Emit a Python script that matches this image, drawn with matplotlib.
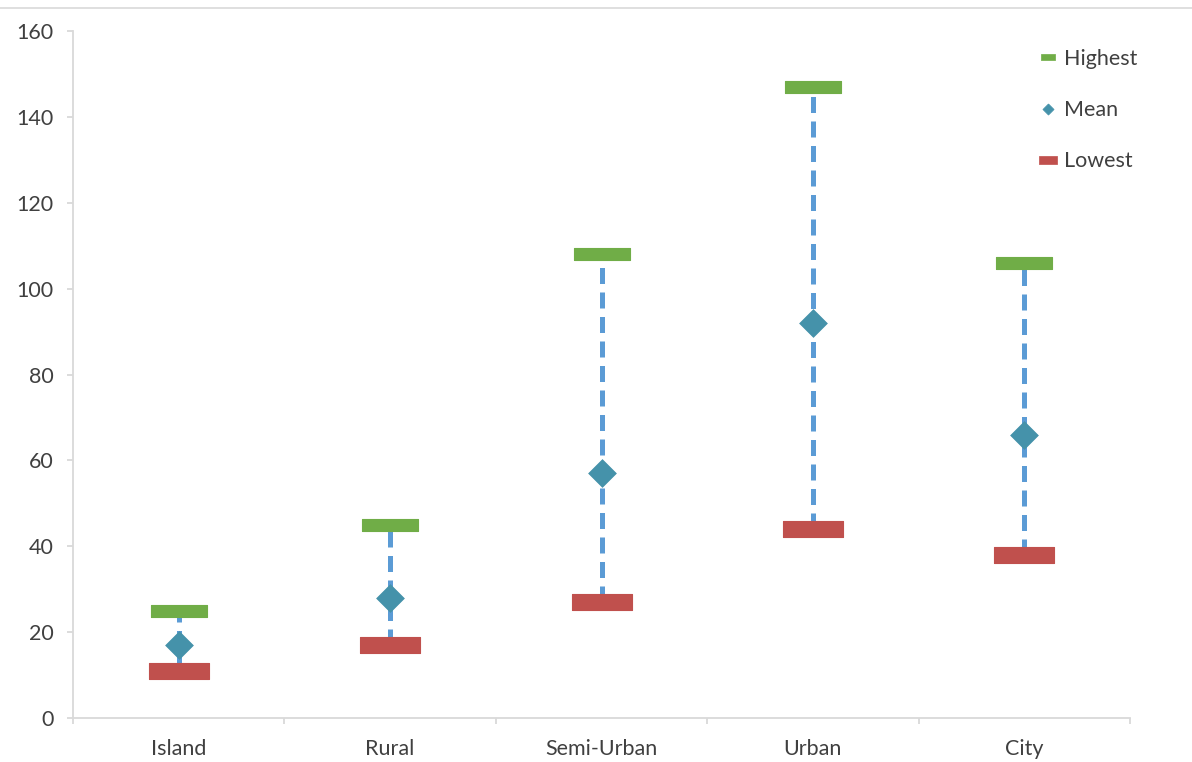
import matplotlib
matplotlib.use("Agg")
import matplotlib.pyplot as plt
from matplotlib.lines import Line2D
import numpy as np

categories = ["Island", "Rural", "Semi-Urban", "Urban", "City"]
highest = [25, 45, 108, 147, 106]
mean = [17, 28, 57, 92, 66]
lowest = [11, 17, 27, 44, 38]

plt.rcParams['font.family'] = ['Lato', 'DejaVu Sans']

GREEN = "#70AD47"
RED = "#C0504D"
TEAL = "#4592AA"
BLUE = "#5B9BD5"
GRAY = "#D9D9D9"
TXT = "#404040"
FS = 15.5

fig = plt.figure(figsize=(11.92, 7.62), dpi=100)
ax = fig.add_axes([73/1192, 44/762, (1130-73)/1192, (718-31)/762])

x = np.arange(len(categories))

# dashed range lines
ax.vlines(x, lowest, highest, colors=BLUE, linewidth=3.6,
          linestyles=(0, (3.2, 1.7)), zorder=1)

green_rect = [(-28, -6), (28, -6), (28, 6), (-28, 6), (-28, -6)]
red_rect = [(-29.5, -7.5), (29.5, -7.5), (29.5, 7.5), (-29.5, 7.5), (-29.5, -7.5)]
diamond = [(0, 1), (1, 0), (0, -1), (-1, 0), (0, 1)]

ax.plot(x, highest, linestyle='none', marker=green_rect, markersize=40.3,
        markerfacecolor=GREEN, markeredgecolor=GREEN, markeredgewidth=0.8, zorder=3)
ax.plot(x, lowest, linestyle='none', marker=red_rect, markersize=42.5,
        markerfacecolor=RED, markeredgecolor=RED, markeredgewidth=0.8, zorder=3)
ax.plot(x, mean, linestyle='none', marker=diamond, markersize=20,
        markerfacecolor=TEAL, markeredgecolor=TEAL, markeredgewidth=0.5, zorder=4)

ax.set_xlim(-0.5, len(categories) - 0.5)
ax.set_ylim(0, 160)
ax.set_yticks(np.arange(0, 161, 20))
ax.set_xticks(x)
ax.set_xticklabels(categories)
ax.set_xticks(np.arange(-0.5, len(categories), 1), minor=True)

for s in ['top', 'right']:
    ax.spines[s].set_visible(False)
for s in ['left', 'bottom']:
    ax.spines[s].set_color(GRAY)
    ax.spines[s].set_linewidth(1.3)

ax.tick_params(axis='y', direction='out', length=4, width=1.3, color=GRAY,
               labelsize=FS, labelcolor=TXT, pad=10)
ax.tick_params(axis='x', which='major', length=0, labelsize=FS,
               labelcolor=TXT, pad=15)
ax.tick_params(axis='x', which='minor', direction='out', length=4, width=1.3,
               color=GRAY)

# legend
leg_green = [(-7, -2.5), (7, -2.5), (7, 2.5), (-7, 2.5), (-7, -2.5)]
leg_red = [(-8.5, -3.5), (8.5, -3.5), (8.5, 3.5), (-8.5, 3.5), (-8.5, -3.5)]
handles = [
    Line2D([], [], linestyle='none', marker=leg_green, markersize=10.5,
           markerfacecolor=GREEN, markeredgecolor=GREEN, markeredgewidth=0.5),
    Line2D([], [], linestyle='none', marker=diamond, markersize=8,
           markerfacecolor=TEAL, markeredgecolor=TEAL, markeredgewidth=0.5),
    Line2D([], [], linestyle='none', marker=leg_red, markersize=12.5,
           markerfacecolor=RED, markeredgecolor=RED, markeredgewidth=0.5),
]
leg = ax.legend(handles, ["Highest", "Mean", "Lowest"], loc='upper left',
                bbox_to_anchor=(1037/1192, 1 - 49/762),
                bbox_transform=fig.transFigure, frameon=False, fontsize=FS,
                labelspacing=1.45, handlelength=1.0, handletextpad=0.25,
                borderaxespad=0, borderpad=0)
for t in leg.get_texts():
    t.set_color(TXT)

# top border line
fig.add_artist(Line2D([0, 1], [1 - 8/762, 1 - 8/762], transform=fig.transFigure,
                      color=GRAY, linewidth=1.2))

fig.savefig("out.png", dpi=100)
